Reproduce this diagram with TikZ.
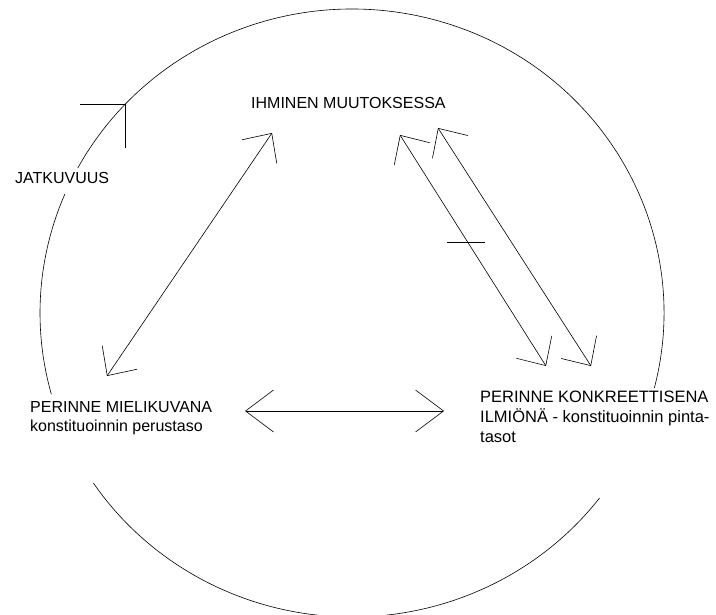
\documentclass[tikz,border=0pt]{standalone}
\usepackage{fontspec}
\setmainfont{Liberation Sans}
\usetikzlibrary{arrows.meta}
\tikzset{
  lbl/.style={inner sep=0pt,font=\fontsize{16}{19}\selectfont,align=left,anchor=north west},
  dbl/.style={line width=0.6pt,{Straight Barb[length=22pt,width=42pt]}-{Straight Barb[length=22pt,width=42pt]}},
  flat/.style={line width=0.6pt,{Straight Barb[length=28pt,width=42pt]}-{Straight Barb[length=28pt,width=42pt]}}
}
\begin{document}
\begin{tikzpicture}[x=1pt,y=1pt]
  \useasboundingbox (0,0) rectangle (716,-615);

  \node[lbl] (ihminen) at (251,-97) {IHMINEN MUUTOKSESSA};
  \node[lbl] (jatk) at (15,-172) {JATKUVUUS};
  \node[lbl] (mieli) at (30,-401) {PERINNE MIELIKUVANA\\konstituoinnin perustaso};
  \node[lbl,font=\fontsize{16.5}{20}\selectfont] (konkr) at (480,-391) {PERINNE KONKREETTISENA\\ILMIÖNÄ - konstituoinnin pinta-\\tasot};

  \coordinate (c) at (352,-313);
  \draw[line width=0.6pt] (c) ++(157:312 and 304) arc[start angle=157,end angle=195.5,x radius=312,y radius=304];
  \draw[line width=0.6pt] (c) ++(214:312 and 304) arc[start angle=214,end angle=322.5,x radius=312,y radius=304];
  \draw[line width=0.6pt] (c) ++(345.7:312 and 304) arc[start angle=345.7,end angle=511.5,x radius=312,y radius=304];

  \coordinate (turn) at (125,-104);
  \draw[line width=0.6pt] (80,-104) -- (turn) -- (125,-148);

  \coordinate (l1) at (107,-376);
  \coordinate (l2) at (272,-133);
  \coordinate (a1) at (400,-135);
  \coordinate (a2) at (546,-366);
  \coordinate (b1) at (438,-128);
  \coordinate (b2) at (591,-366);
  \coordinate (h1) at (245,-411);
  \coordinate (h2) at (444,-411);
  \coordinate (t1) at (447,-242);
  \coordinate (t2) at (485,-242);

  \draw[dbl] (l1) -- (l2);
  \draw[dbl] (a1) -- (a2);
  \draw[dbl] (b1) -- (b2);
  \draw[flat] (h1) -- (h2);
  \draw[line width=0.6pt] (t1) -- (t2);
\end{tikzpicture}
\end{document}
